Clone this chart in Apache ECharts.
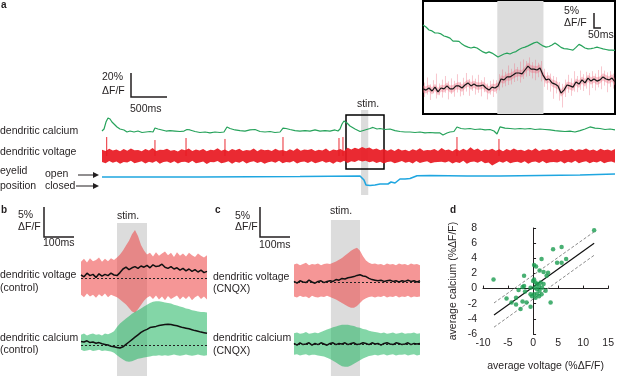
<!DOCTYPE html>
<html><head><meta charset="utf-8">
<script src="https://cdn.jsdelivr.net/npm/echarts/dist/echarts.min.js"></script>
<style>html,body{margin:0;padding:0;background:#fff}#c{width:617px;height:376px}</style>
</head><body><div id="c"></div>
<script>
// ---------------- DATA ----------------
// panel a: whole trial (time in ms, values in %ΔF/F)
const STIM_A = [3585, 3685];
const BOX_A = [3377, 3903];
const A_CA = [[0,0.8],[28,2.5],[55,8.3],[83,11.7],[111,10.8],[138,8.3],[166,6.7],[208,4.2],[249,2.5],[304,1.7],[346,0],[388,0.8],[443,0],[498,0.8],[554,-0.4],[609,0],[664,0.4],[706,0],[733,3.3],[775,2.5],[830,1.7],[886,0.8],[941,1.2],[1010,0.8],[1080,0.4],[1135,0.8],[1176,2.1],[1218,1.7],[1287,0.4],[1356,-0.4],[1426,0],[1495,-0.8],[1564,0],[1633,-0.4],[1688,0],[1730,4.2],[1772,2.9],[1841,1.7],[1910,1.2],[1979,0.8],[2048,1.7],[2118,2.1],[2187,0.4],[2256,0],[2325,0.4],[2394,-0.4],[2464,0],[2505,3.3],[2547,2.9],[2602,2.1],[2671,1.2],[2740,0.8],[2810,1.2],[2879,0.8],[2948,1.7],[3017,0.8],[3086,1.2],[3156,0.8],[3225,1.7],[3266,0.8],[3294,2.5],[3322,6.7],[3349,9.2],[3391,7.5],[3432,5.0],[3502,2.5],[3571,0.4],[3640,1.7],[3709,2.9],[3751,3.8],[3806,2.5],[3848,2.9],[3917,2.1],[3986,2.5],[4055,1.2],[4124,0.4],[4194,0],[4263,0],[4332,-0.4],[4401,0],[4470,-0.8],[4540,-0.4],[4609,-0.8],[4678,-0.8],[4719,-2.5],[4775,-0.8],[4816,0],[4871,0.4],[4913,4.2],[4969,2.9],[5024,2.5],[5093,2.9],[5162,2.1],[5232,2.5],[5301,1.7],[5370,2.1],[5425,0.8],[5467,-1.7],[5508,4.2],[5578,3.3],[5647,2.9],[5716,2.5],[5785,2.9],[5854,2.5],[5924,2.9],[5993,2.1],[6062,2.5],[6131,2.1],[6200,1.7],[6270,1.2],[6339,0.8],[6408,0.4],[6477,0.8],[6546,0],[6616,1.2],[6685,2.5],[6754,4.2],[6823,3.3],[6892,2.9],[6962,2.1],[7031,2.5],[7100,1.7]];
const A_V_DT = 50;
const A_V_U = [5.2,4.1,6.0,4.6,5.5,3.9,5.8,4.4,6.3,4.8,5.1,4.0,5.9,4.5,6.6,4.2,5.3,4.9,6.1,4.3,
5.0,3.8,5.7,4.7,6.2,4.1,5.4,4.6,5.9,3.9,5.2,4.8,6.4,4.4,5.5,4.0,5.8,4.7,6.0,4.2,
5.1,4.5,6.3,4.0,5.6,4.8,5.3,4.1,6.1,4.6,5.0,3.9,5.7,4.4,6.5,4.3,5.4,4.9,5.9,4.1,
5.2,4.6,6.2,4.0,5.5,4.7,5.8,4.2,6.8,5.4,6.9,5.8,7.6,6.2,7.0,5.5,6.3,4.8,5.9,4.4,
5.6,4.1,6.0,4.6,5.3,4.0,5.7,4.5,6.4,4.3,5.1,4.8,5.9,4.2,6.6,4.7,5.5,4.0,5.8,4.4,
6.1,4.6,7.2,5.0,6.3,4.1,5.4,4.7,6.0,4.3,5.6,4.0,5.9,4.5,6.2,4.8,5.3,4.1,5.7,4.6,
6.4,4.2,5.5,4.9,6.1,4.3,5.8,4.0,5.2,4.7,6.0,4.4,5.6,4.9,6.2,4.5,5.4,4.1,6.0,4.7,
5.5,4.3,5.8];
const A_V_L = [-5.0,-6.1,-4.2,-5.7,-4.6,-6.4,-4.9,-5.5,-4.0,-6.0,-5.3,-4.4,-6.2,-4.8,-5.6,-4.1,-6.5,-5.0,-4.5,-5.9,
-4.3,-6.3,-5.1,-4.7,-5.8,-4.0,-6.1,-5.4,-4.6,-6.6,-4.9,-5.2,-4.2,-6.0,-5.5,-4.4,-6.4,-4.8,-5.7,-4.1,
-6.2,-5.0,-4.3,-5.9,-4.7,-6.5,-5.3,-4.5,-5.6,-4.0,-6.1,-4.9,-5.4,-4.2,-6.3,-5.1,-4.6,-5.8,-4.4,-6.0,
-5.2,-4.1,-5.7,-4.8,-6.4,-4.5,-5.5,-4.0,-5.9,-4.3,-5.0,-3.6,-4.6,-3.9,-5.2,-4.4,-5.8,-4.7,-6.2,-5.0,
-4.5,-6.1,-5.3,-4.2,-5.6,-4.8,-6.3,-4.1,-5.9,-5.0,-4.4,-6.0,-5.2,-5.0,-4.7,-5.5,-4.3,-6.2,-4.9,-5.8,
-4.0,-6.5,-5.1,-4.6,-5.7,-4.2,-6.1,-5.4,-8.0,-6.3,-4.5,-5.6,-4.1,-6.0,-5.2,-4.7,-5.9,-4.3,-6.4,-5.0,
-4.6,-5.8,-4.2,-6.1,-5.3,-4.9,-5.5,-4.4,-6.2,-4.8,-5.7,-4.0,-6.0,-5.1,-4.3,-6.0,-4.8,-5.5,-4.2,-6.1,
-5.0,-4.6,-5.7];
const A_SPIKES = [[65,15.8],[733,13.3],[1163,15],[1702,14.2],[2505,15.8],[3280,15],[3335,15.8],[4913,15.8],[5494,14.2]];
const A_EYE = [[0,0],[1356,0],[2740,0.5],[3571,1],[3598,2],[3626,-3],[3654,-8],[3709,-8.5],[3778,-8],[3848,-7],[3903,-7],[3958,-7],[4000,-5],[4055,-6],[4124,-2],[4194,-2],[4263,-1.5],[4360,1.3],[4540,1.5],[5052,1],[5508,1],[6062,1.5],[6616,2],[7100,3]];

// panel a inset (ms relative to stim onset)
const IN_T0 = -161, IN_DT = 6.5, STIM_IN = [0, 100];
const IN_CA = [9.7,9.0,8.0,7.7,7.0,7.0,6.7,6.0,5.7,5.3,4.3,4.3,4.2,3.3,2.7,2.3,2.0,2.3,2.0,1.3,
0.7,0.3,0.7,0.3,-0.3,-1.0,-0.5,0,0.3,0,0.5,0.8,1.5,2.0,2.3,2.7,3.2,3.7,4.0,3.3,
2.7,2.3,2.5,3.0,3.7,3.0,2.2,1.8,1.7,1.5,1.3,2.2,3.2,2.7,2.0,1.7,1.8,2.0,2.3,2.0,1.7,1.5,1.3,1.3,1.2];
const IN_V = [-0.3,-0.7,0,-1.0,0.3,-1.3,0,-0.3,0.7,-0.3,-0.3,0.7,0.7,0,1.0,1.7,0.7,1.3,0.7,0.7,
1.0,0,-0.7,0.3,0,0.7,3.0,2.7,3.7,3.7,4.3,5.0,5.0,4.7,6.0,7.3,6.3,6.3,6.0,6.7,
4.3,2.7,3.0,1.7,1.3,0.7,-1.7,-0.7,1.0,0.7,0.3,2.0,1.3,2.7,1.7,3.3,2.3,3.0,2.3,2.7,3.7,3.0,2.7,3.3,2.0];
const IN_V_U = [0.8,0.5,1.2,0.2,1.4,0.0,1.1,0.9,1.8,0.8,1.0,1.7,2.0,1.2,2.1,2.8,2.0,2.4,1.9,1.8,
2.2,1.3,0.5,1.4,1.3,1.9,4.2,4.0,4.8,5.0,5.5,6.3,6.1,6.0,7.2,8.5,7.6,7.4,7.3,7.9,
5.6,3.9,4.3,2.8,2.6,1.9,-0.5,0.6,2.1,2.0,1.5,3.2,2.6,3.8,3.0,4.4,3.6,4.1,3.6,3.8,4.9,4.3,3.8,4.6,3.2];
const IN_V_L = [-1.5,-1.8,-1.2,-2.2,-0.9,-2.5,-1.2,-1.5,-0.5,-1.5,-1.5,-0.5,-0.5,-1.3,-0.2,0.5,-0.6,0.1,-0.6,-0.5,
-0.2,-1.3,-1.9,-0.9,-1.3,-0.5,1.8,1.4,2.5,2.4,3.1,3.7,3.9,3.5,4.8,6.0,5.1,5.0,4.8,5.4,
3.1,1.4,1.8,0.5,0.0,-0.5,-2.9,-1.9,-0.2,-0.6,-0.9,0.8,0.0,1.5,0.4,2.1,1.1,1.8,1.0,1.5,2.5,1.8,1.4,2.1,0.8];
// noise needles [ms, low, high]
const IN_NEEDLES = [[-157.8,-3.0,1.8],[-151.3,-2.2,3.5],[-144.8,-4.0,1.2],[-138.3,-1.8,2.6],[-131.8,-3.5,4.8],[-125.3,-2.4,1.5],
[-118.8,-3.2,2.8],[-112.3,-1.6,4.0],[-105.8,-3.8,2.2],[-99.3,-2.0,3.2],[-92.8,-2.9,2.4],[-86.3,-1.5,4.6],[-79.8,-2.8,2.0],
[-73.3,-2.4,3.4],[-66.8,-1.2,5.0],[-60.3,-2.6,3.0],[-53.8,-1.0,4.2],[-47.3,-2.2,3.1],[-40.8,-1.6,4.4],[-34.3,-2.8,2.6],
[-27.8,-1.4,3.6],[-21.3,-3.8,1.5],[-14.8,-2.2,2.4],[-8.3,-3.0,2.8],[-1.8,-1.8,2.6],[4.8,-0.8,4.6],[11.3,0.2,6.2],
[17.8,0.6,5.4],[24.3,1.0,7.5],[30.8,1.2,6.4],[37.3,2.0,8.2],[43.8,2.4,7.0],[50.3,1.8,8.8],[56.8,3.0,9.5],[63.3,3.8,9.0],
[69.8,4.0,10.2],[76.3,3.2,8.6],[82.8,2.6,9.4],[89.3,3.6,8.4],[95.8,2.2,9.0],[102.3,0.4,6.4],[108.8,-0.6,5.2],[115.3,-1.2,4.8],
[121.8,-3.6,4.0],[128.3,-1.8,3.6],[134.8,-4.2,2.0],[141.3,-6.5,1.4],[147.8,-3.0,2.8],[154.3,-1.6,4.4],[160.8,-2.6,3.2],
[167.3,-1.2,5.6],[173.8,-1.4,4.0],[180.3,-0.6,5.8],[186.8,-1.0,4.6],[193.3,-0.2,5.4],[199.8,-2.4,5.0],[206.3,0.0,5.6],
[212.8,-0.8,4.8],[219.3,0.2,6.0],[225.8,-0.4,7.2],[232.3,0.8,5.8],[238.8,-1.4,5.2],[245.3,0.4,5.6],[251.8,-0.2,4.8]];

// panels b, c (ms from trace start, 10 ms step)
const BC_DT = 10;
const STIM_B = [120, 220], STIM_C = [123, 220];
const B_V_MEAN = [0.5,0.2,0.8,0.4,0.6,0.1,0.7,0.3,0.6,0.4,0.8,0.5,0.4,0.9,1.5,1.8,1.4,1.7,1.9,1.6,2.0,1.8,2.1,1.7,2.2,1.9,2.0,2.3,1.8,1.6,1.9,1.5,1.7,1.3,1.6,1.2,1.5,1.1,1.4,1.0,1.3,0.9,1.1];
const B_V_UP = [2.7,3.2,2.6,3.3,2.8,3.0,3.4,2.7,3.2,2.8,3.3,3.0,3.4,3.9,4.6,5.4,6.2,7.3,8.0,7.0,5.5,4.6,3.9,4.2,3.6,4.3,3.7,4.1,4.4,3.8,4.2,3.5,4.3,3.7,4.1,3.6,4.2,3.8,3.5,4.1,3.7,3.4,3.8];
const B_V_LO = [-2.8,-3.2,-2.6,-3.1,-2.8,-3.3,-2.7,-3.1,-2.6,-3.2,-2.8,-3.0,-3.2,-3.6,-4.0,-4.4,-5.0,-5.6,-5.8,-5.2,-4.5,-3.8,-3.3,-3.0,-3.5,-2.9,-3.6,-3.1,-3.7,-3.0,-3.5,-3.2,-2.9,-3.6,-3.1,-3.5,-3.0,-3.7,-3.2,-2.9,-3.5,-3.1,-3.6];
const B_C_MEAN = [0.6,0.5,0.7,0.4,0.5,0.3,0.4,0.2,0.1,0.0,-0.2,-0.3,-0.4,-0.5,-0.3,0.1,0.5,0.9,1.3,1.7,2.1,2.4,2.6,2.9,3.0,3.1,3.25,3.35,3.4,3.45,3.4,3.3,3.2,3.05,2.9,2.8,2.7,2.55,2.4,2.3,2.15,2.05,1.95];
const B_C_UP = [1.7,1.9,1.6,1.8,1.9,1.7,1.8,1.6,1.9,1.8,2.0,2.3,3.0,3.6,4.0,4.4,4.8,5.2,5.5,5.8,6.1,6.4,6.7,7.0,7.2,7.3,7.3,7.2,7.1,7.0,6.9,6.7,6.6,6.4,6.3,6.1,6.0,5.8,5.7,5.6,5.5,5.5,5.4];
const B_C_LO = [-0.8,-1.0,-0.9,-0.8,-1.0,-0.9,-0.8,-1.0,-0.9,-1.0,-1.1,-1.3,-1.7,-2.1,-2.4,-2.7,-2.8,-2.7,-2.5,-2.3,-2.2,-2.1,-2.0,-1.9,-1.8,-1.8,-1.7,-1.8,-1.7,-1.8,-1.7,-1.6,-1.7,-1.8,-1.7,-1.6,-1.7,-1.8,-1.7,-1.6,-1.7,-1.8,-1.7];
const C_V_MEAN = [0.1,-0.2,0.2,0.0,-0.1,0.3,0.0,-0.2,0.1,0.2,-0.1,0.1,0.2,0.1,0.4,0.3,0.6,0.5,0.7,0.8,0.9,1.1,1.2,1.0,0.9,0.6,0.4,0.3,0.2,0.3,0.1,0.2,0.3,0.1,0.2,0.0,0.2,0.1,0.3,0.1,0.2,0.0,0.2];
const C_V_UP = [2.9,3.1,2.8,3.0,3.2,2.8,3.0,2.9,3.1,2.8,3.0,3.1,3.0,3.2,3.4,3.7,4.0,4.4,4.8,5.2,5.5,5.7,5.2,4.3,3.6,3.2,3.0,3.1,2.9,3.0,2.8,3.1,2.9,3.0,2.8,3.1,2.9,3.0,2.8,3.1,2.9,3.0,2.8];
const C_V_LO = [-2.4,-2.6,-2.3,-2.5,-2.4,-2.7,-2.3,-2.5,-2.6,-2.4,-2.5,-2.3,-2.5,-2.7,-2.9,-3.2,-3.5,-3.8,-4.1,-4.3,-4.3,-4.0,-3.5,-3.0,-2.7,-2.5,-2.4,-2.6,-2.4,-2.5,-2.3,-2.6,-2.4,-2.5,-2.3,-2.6,-2.4,-2.5,-2.3,-2.6,-2.4,-2.5,-2.4];
const C_C_MEAN = [0.1,-0.2,0.2,-0.1,0.0,0.2,-0.2,0.1,-0.1,0.2,0.0,-0.2,0.1,0.2,-0.1,0.1,0.0,0.2,-0.1,0.1,0.2,-0.1,0.0,0.2,0.1,-0.1,0.2,0.0,0.1,-0.2,0.1,0.2,0.0,-0.1,0.2,0.1,-0.1,0.0,0.2,-0.1,0.1,0.0,0.1];
const C_C_UP = [1.8,1.9,1.7,1.8,2.0,1.7,1.8,1.9,1.8,2.0,2.2,2.4,2.6,2.8,2.9,3.1,3.2,3.2,3.2,3.1,3.0,2.8,2.7,2.5,2.4,2.2,2.1,2.0,1.9,1.8,1.9,1.7,1.8,1.9,1.7,1.8,1.9,1.7,1.8,1.8,1.9,1.7,1.8];
const C_C_LO = [-1.8,-1.7,-1.9,-1.8,-1.7,-1.9,-1.8,-1.8,-1.9,-2.0,-2.1,-2.3,-2.5,-2.8,-3.1,-3.4,-3.7,-3.8,-3.8,-3.6,-3.3,-3.0,-2.7,-2.4,-2.2,-2.0,-1.9,-1.8,-1.9,-1.8,-1.7,-1.9,-1.8,-1.7,-1.9,-1.8,-1.8,-1.7,-1.9,-1.8,-1.7,-1.9,-1.8];

// panel d
const D_X_TICKS = [-10, 15, 5], D_Y_TICKS = [-6, 8, 2];
const D_POINTS = [[-7.9,1.2],[12.2,7.7],[4.0,5.2],[5.7,5.5],[1.7,3.9],[0.2,3.1],[0.6,2.9],[4.8,3.4],[5.7,3.4],[6.6,3.9],[2.1,2.2],[1.3,2.4],[3.0,2.1],[2.7,1.7],[-1.8,1.7],[-5.3,-1.3],[-2.9,-0.2],[-2.1,0.2],[-1.8,0.35],[-3.4,-1.2],[-3.4,-2.1],[-4.3,-1.85],[-2.1,-1.7],[-1.3,-1.85],[-2.5,-2.7],[-0.5,-2.4],[-1.6,-0.4],[3.5,-1.85],[0,1.0],[0.2,1.2],[0.5,0.8],[0.8,0.6],[1.2,0.35],[0.4,0.1],[0.8,-0.1],[1.3,-0.3],[0.2,-0.75],[-0.2,-1.0],[-0.5,-0.75],[0.5,-1.2],[1.8,0.1],[1.5,0.8],[2.1,0.6],[2.5,-0.3],[-0.5,0.1],[0.8,-0.7],[1.2,-1.0],[1.7,-0.75]];
const D_FIT = [[-7.8,-3.5],[12.2,6.0]];
const D_FIT_HI = [[-7.8,-1.9],[12.2,7.5]];
const D_FIT_LO = [[-7.8,-5.1],[12.2,4.4]];

// ---------------- CHART ----------------
const FONT = '"Liberation Sans", Arial, Helvetica, sans-serif';
const TXT = '#231f20';
const GREEN = '#25a25a', RED = 'rgba(232,26,34,0.93)', BLUE = '#1fa6e0', GREY = '#dcdcdc';
const PINK = 'rgba(237,71,71,0.57)', MINT = 'rgba(30,180,95,0.55)';
const PINK_IN = 'rgba(238,110,130,0.38)', PINK_NEEDLE = 'rgba(236,105,125,0.42)';

const grids = [], xAxes = [], yAxes = [];
function panel(rect, xr, yr) {
  grids.push(Object.assign({}, rect));
  const g = grids.length - 1;
  xAxes.push({gridIndex: g, type: 'value', min: xr[0], max: xr[1], show: false});
  yAxes.push({gridIndex: g, type: 'value', min: yr[0], max: yr[1], show: false});
  return {x: xAxes.length - 1, y: yAxes.length - 1, g};
}
function extraY(p, yr) {
  yAxes.push({gridIndex: p.g, type: 'value', min: yr[0], max: yr[1], show: false});
  return yAxes.length - 1;
}
const pairs = (t0, dt, arr) => arr.map((v, i) => [t0 + i * dt, v]);
const triples = (t0, dt, lo, hi) => lo.map((v, i) => [t0 + i * dt, v, hi[i]]);

function line(p, yi, data, color, width, z, extra) {
  return Object.assign({type: 'line', xAxisIndex: p.x, yAxisIndex: yi, data, showSymbol: false, symbol: 'none',
    silent: true, z, lineStyle: {color, width}, animation: false}, extra || {});
}
function band(p, yi, pts, color, z) {
  return {type: 'custom', xAxisIndex: p.x, yAxisIndex: yi, z, silent: true, animation: false,
    data: [[pts[0][0], pts[0][1]]],
    renderItem: (params, api) => {
      const P = [];
      for (let i = 0; i < pts.length; i++) P.push(api.coord([pts[i][0], pts[i][2]]));
      for (let i = pts.length - 1; i >= 0; i--) P.push(api.coord([pts[i][0], pts[i][1]]));
      return {type: 'polygon', shape: {points: P}, style: {fill: color}};
    }};
}
// vertical segments: data items [t, y0, y1]
function segs(p, yi, data, color, width, z) {
  return {type: 'custom', xAxisIndex: p.x, yAxisIndex: yi, z, silent: true, animation: false, data,
    renderItem: (params, api) => {
      const a = api.coord([api.value(0), api.value(1)]), b = api.coord([api.value(0), api.value(2)]);
      return {type: 'line', shape: {x1: a[0], y1: a[1], x2: b[0], y2: b[1]}, style: {stroke: color, lineWidth: width}};
    }};
}
function area(p, range, style, z) {
  return {type: 'line', xAxisIndex: p.x, yAxisIndex: p.y, data: [[range[0], 0.5]], showSymbol: false, symbol: 'none',
    lineStyle: {opacity: 0}, silent: true, z, animation: false,
    markArea: {silent: true, itemStyle: style, data: [[{xAxis: range[0]}, {xAxis: range[1]}]]}};
}
const dashed = {silent: true, symbol: ['none', 'none'], label: {show: false}, animation: false,
  lineStyle: {type: [2, 2], color: '#222', width: 1}, data: [{yAxis: 0}]};

// panel a
const pACa = panel({left: 102, top: 108, width: 513, height: 36}, [0, 7100], [-10, 20]);
const pAV = panel({left: 102, top: 132, width: 513, height: 48}, [0, 7100], [-20, 20]);
const pAE = panel({left: 102, top: 167, width: 513, height: 20}, [0, 7100], [-10, 10]);
const pAS = panel({left: 102, top: 110, width: 513, height: 85}, [0, 7100], [0, 1]);
const pAB = panel({left: 102, top: 115, width: 513, height: 54}, [0, 7100], [0, 1]);
const pIn = panel({left: 423, top: 1, width: 192, height: 113, show: true, borderColor: '#000', borderWidth: 2,
  backgroundColor: 'rgba(0,0,0,0)'}, [IN_T0, IN_T0 + (IN_CA.length - 1) * IN_DT], [-20, 17.667]);
const yInV = extraY(pIn, [-8.667, 29]);
// panels b, c
const BC_MAX = 426.7;
const pBS = panel({left: 81, top: 223, width: 128, height: 153}, [0, BC_MAX], [0, 1]);
const pBV = panel({left: 81, top: 224, width: 128, height: 96}, [0, BC_MAX], [-7, 9]);
const pBC = panel({left: 81, top: 291, width: 128, height: 78}, [0, BC_MAX], [-4, 9]);
const pCS = panel({left: 294, top: 220, width: 128, height: 156}, [0, BC_MAX], [0, 1]);
const pCV = panel({left: 294, top: 234, width: 128, height: 78}, [0, BC_MAX], [-5, 8]);
const pCC = panel({left: 294, top: 308, width: 128, height: 66}, [0, BC_MAX], [-5, 6]);
// panel d
grids.push({left: 483, top: 228, width: 127, height: 106});
const gD = grids.length - 1;
const axisCommon = {axisLine: {lineStyle: {color: TXT, width: 1}}, axisTick: {inside: true, length: 3, lineStyle: {color: TXT}},
  splitLine: {show: false}, nameLocation: 'middle', nameTextStyle: {fontSize: 10.5, color: TXT, fontFamily: FONT}};
xAxes.push(Object.assign({gridIndex: gD, type: 'value', min: D_X_TICKS[0], max: D_X_TICKS[1], interval: D_X_TICKS[2],
  axisLabel: {fontSize: 10.5, color: TXT, fontFamily: FONT, margin: 4}, name: 'average voltage (%ΔF/F)', nameGap: 27}, axisCommon));
const xD = xAxes.length - 1;
yAxes.push(Object.assign({gridIndex: gD, type: 'value', min: D_Y_TICKS[0], max: D_Y_TICKS[1], interval: D_Y_TICKS[2],
  axisLabel: {fontSize: 10.5, color: TXT, fontFamily: FONT, margin: 6}, name: 'average calcium (%ΔF/F)', nameGap: 24}, axisCommon));
const yD = yAxes.length - 1;
const pD = {x: xD, y: yD, g: gD};

const series = [
  area(pAS, STIM_A, {color: GREY}, 1),
  line(pACa, pACa.y, A_CA, GREEN, 1.2, 3),
  band(pAV, pAV.y, triples(0, A_V_DT, A_V_L, A_V_U), RED, 3),
  segs(pAV, pAV.y, A_SPIKES.map(s => [s[0], 0, s[1]]), RED, 1, 3),
  line(pAE, pAE.y, A_EYE, BLUE, 1.6, 3),
  area(pAB, BOX_A, {color: 'rgba(0,0,0,0)', borderColor: '#000', borderWidth: 1.5}, 6),
  area(pIn, STIM_IN, {color: GREY}, 1),
  band(pIn, yInV, triples(IN_T0, IN_DT, IN_V_L, IN_V_U), PINK_IN, 2),
  segs(pIn, yInV, IN_NEEDLES, PINK_NEEDLE, 0.9, 2),
  line(pIn, yInV, pairs(IN_T0, IN_DT, IN_V), '#151515', 1.2, 4),
  line(pIn, pIn.y, pairs(IN_T0, IN_DT, IN_CA), GREEN, 1.2, 4),
  area(pBS, STIM_B, {color: GREY}, 1),
  band(pBV, pBV.y, triples(0, BC_DT, B_V_LO, B_V_UP), PINK, 2),
  line(pBV, pBV.y, pairs(0, BC_DT, B_V_MEAN), '#111', 1.5, 4, {markLine: dashed}),
  band(pBC, pBC.y, triples(0, BC_DT, B_C_LO, B_C_UP), MINT, 2),
  line(pBC, pBC.y, pairs(0, BC_DT, B_C_MEAN), '#111', 1.5, 4, {markLine: dashed}),
  area(pCS, STIM_C, {color: GREY}, 1),
  band(pCV, pCV.y, triples(0, BC_DT, C_V_LO, C_V_UP), PINK, 2),
  line(pCV, pCV.y, pairs(0, BC_DT, C_V_MEAN), '#111', 1.5, 4, {markLine: dashed}),
  band(pCC, pCC.y, triples(0, BC_DT, C_C_LO, C_C_UP), MINT, 2),
  line(pCC, pCC.y, pairs(0, BC_DT, C_C_MEAN), '#111', 1.5, 4, {markLine: dashed}),
  line(pD, yD, D_FIT_HI, '#8a8a8a', 1, 2, {lineStyle: {color: '#8a8a8a', width: 1, type: [3, 2]}}),
  line(pD, yD, D_FIT_LO, '#8a8a8a', 1, 2, {lineStyle: {color: '#8a8a8a', width: 1, type: [3, 2]}}),
  line(pD, yD, D_FIT, '#111', 1.2, 3),
  {type: 'scatter', xAxisIndex: xD, yAxisIndex: yD, data: D_POINTS, symbolSize: 4.5, silent: true, z: 4,
    itemStyle: {color: '#1c9c50'}, animation: false}
];

// annotations (text labels & scale bars)
const g = [];
function T(text, x, y, opt) {
  opt = opt || {};
  g.push({type: 'text', z: 100, silent: true, style: {text, x, y, fill: TXT,
    font: (opt.bold ? 'bold ' : '') + (opt.size || 10.5) + 'px ' + FONT,
    textAlign: opt.align || 'left', textVerticalAlign: 'middle', align: opt.align || 'left', verticalAlign: 'middle'}});
}
function P(points, w) {
  g.push({type: 'polyline', z: 100, silent: true, shape: {points}, style: {stroke: TXT, lineWidth: w || 1.5, fill: null}});
}
function arrow(x1, x2, y) {
  P([[x1, y], [x2 - 5, y]], 1);
  g.push({type: 'polygon', z: 100, silent: true, shape: {points: [[x2 - 6, y - 3], [x2, y], [x2 - 6, y + 3]]}, style: {fill: TXT}});
}
// a
T('a', 1, 5, {bold: true, size: 10});
T('20%', 102, 77); T('ΔF/F', 102, 91); P([[131, 73], [131, 97], [167, 97]]); T('500ms', 130, 109);
T('stim.', 368, 104, {align: 'center'});
T('dendritic calcium', 0, 131); T('dendritic voltage', 0, 152);
T('eyelid', 0, 171); T('position', 0, 186); T('open', 45, 174); T('closed', 45, 186);
arrow(78, 99, 175); arrow(76, 99, 186);
T('5%', 564, 11.5); T('ΔF/F', 564, 23.5); P([[594, 13], [594, 28], [601, 28]]); T('50ms', 588, 35.5);
// b
T('b', 1, 210, {bold: true, size: 10});
T('5%', 18, 215); T('ΔF/F', 18, 227); P([[44, 207], [44, 237], [74, 237]]); T('100ms', 43, 243);
T('stim.', 128, 216, {align: 'center'});
T('dendritic voltage', 0, 275); T('(control)', 0, 288);
T('dendritic calcium', 0, 338); T('(control)', 0, 350);
// c
T('c', 215, 210, {bold: true, size: 10});
T('5%', 235, 216); T('ΔF/F', 235, 227); P([[260, 207], [260, 237], [290, 237]]); T('100ms', 259, 245);
T('stim.', 341, 211, {align: 'center'});
T('dendritic voltage', 213, 277); T('(CNQX)', 213, 289);
T('dendritic calcium', 213, 338); T('(CNQX)', 213, 351);
// d
T('d', 450, 210, {bold: true, size: 10});

const chart = echarts.init(document.getElementById('c'), null, {renderer: 'canvas'});
chart.setOption({animation: false, backgroundColor: '#fff', textStyle: {fontFamily: FONT},
  grid: grids, xAxis: xAxes, yAxis: yAxes, series, graphic: g});
</script></body></html>
